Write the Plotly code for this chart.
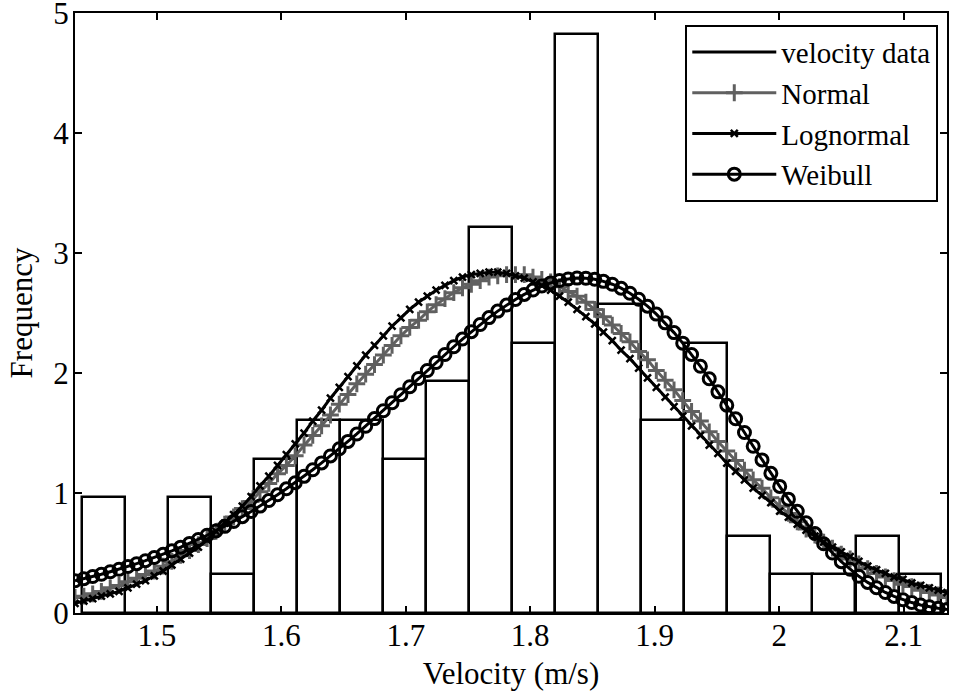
import plotly.graph_objects as go

# Histogram (velocity data): bin centres and frequency-density heights
bin_centers = [1.4570, 1.4915, 1.5260, 1.5606, 1.5951, 1.6296, 1.6642, 1.6987, 1.7332, 1.7678,
               1.8023, 1.8368, 1.8714, 1.9059, 1.9404, 1.9750, 2.0095, 2.0440, 2.0786, 2.1131]
bin_width = 0.03453
bin_freq = [0.965, 0.0, 0.965, 0.322, 1.287, 1.609, 1.609, 1.287, 1.931, 3.218,
            2.253, 4.827, 2.574, 1.609, 2.253, 0.644, 0.322, 0.322, 0.644, 0.322]

# Fitted density curves
vel = [1.4343,1.4414,1.4485,1.4555,1.4626,1.4697,1.4768,1.4838,1.4909,1.4980,1.5051,1.5121,1.5192,1.5263,1.5334,1.5404,1.5475,1.5546,1.5617,1.5687,
       1.5758,1.5829,1.5900,1.5970,1.6041,1.6112,1.6183,1.6253,1.6324,1.6395,1.6466,1.6536,1.6607,1.6678,1.6749,1.6820,1.6890,1.6961,1.7032,1.7103,
       1.7173,1.7244,1.7315,1.7386,1.7456,1.7527,1.7598,1.7669,1.7739,1.7810,1.7881,1.7952,1.8022,1.8093,1.8164,1.8235,1.8305,1.8376,1.8447,1.8518,
       1.8588,1.8659,1.8730,1.8801,1.8871,1.8942,1.9013,1.9084,1.9155,1.9225,1.9296,1.9367,1.9438,1.9508,1.9579,1.9650,1.9721,1.9791,1.9862,1.9933,
       2.0004,2.0074,2.0145,2.0216,2.0287,2.0357,2.0428,2.0499,2.0570,2.0640,2.0711,2.0782,2.0853,2.0923,2.0994,2.1065,2.1136,2.1206,2.1277,2.1348]
normal = [0.13,0.14,0.16,0.18,0.21,0.23,0.26,0.29,0.32,0.35,0.39,0.43,0.48,0.52,0.57,0.62,0.68,0.74,0.80,0.87,
          0.93,1.01,1.08,1.16,1.23,1.31,1.40,1.48,1.56,1.65,1.74,1.82,1.91,1.99,2.07,2.15,2.23,2.31,2.38,2.44,
          2.51,2.57,2.62,2.67,2.71,2.74,2.77,2.80,2.81,2.82,2.82,2.82,2.80,2.78,2.76,2.72,2.68,2.64,2.59,2.53,
          2.47,2.40,2.33,2.26,2.18,2.11,2.02,1.94,1.86,1.77,1.68,1.60,1.51,1.43,1.35,1.27,1.19,1.11,1.04,0.96,
          0.89,0.83,0.76,0.70,0.65,0.59,0.54,0.49,0.45,0.41,0.37,0.33,0.30,0.27,0.24,0.22,0.19,0.17,0.15,0.13]
lognormal = [0.08,0.10,0.12,0.14,0.16,0.18,0.21,0.24,0.27,0.31,0.35,0.40,0.45,0.50,0.55,0.61,0.68,0.75,0.82,0.89,
             0.97,1.06,1.14,1.23,1.32,1.41,1.50,1.60,1.69,1.79,1.88,1.97,2.06,2.15,2.23,2.31,2.39,2.46,2.53,2.59,
             2.64,2.69,2.73,2.77,2.80,2.82,2.83,2.84,2.84,2.83,2.81,2.79,2.76,2.73,2.69,2.64,2.59,2.53,2.47,2.41,
             2.34,2.27,2.19,2.12,2.04,1.96,1.88,1.80,1.72,1.64,1.56,1.48,1.40,1.33,1.25,1.18,1.11,1.04,0.98,0.92,
             0.85,0.80,0.74,0.69,0.64,0.59,0.55,0.51,0.47,0.43,0.39,0.36,0.33,0.30,0.28,0.25,0.23,0.21,0.19,0.17]
weibull = [0.269,0.286,0.304,0.323,0.344,0.365,0.387,0.411,0.436,0.462,0.490,0.518,0.549,0.580,0.613,0.648,0.684,0.722,0.762,0.803,
           0.846,0.891,0.937,0.985,1.035,1.086,1.139,1.194,1.251,1.309,1.369,1.430,1.492,1.556,1.620,1.686,1.752,1.819,1.886,1.954,
           2.021,2.088,2.154,2.219,2.283,2.345,2.404,2.462,2.516,2.566,2.613,2.655,2.692,2.725,2.751,2.771,2.784,2.791,2.790,2.781,
           2.764,2.740,2.707,2.665,2.615,2.557,2.491,2.418,2.337,2.249,2.155,2.056,1.952,1.843,1.732,1.619,1.504,1.390,1.276,1.164,
           1.055,0.949,0.848,0.752,0.662,0.577,0.500,0.428,0.364,0.306,0.255,0.210,0.171,0.138,0.110,0.087,0.067,0.052,0.039,0.029]

x_ticks = [1.5, 1.6, 1.7, 1.8, 1.9, 2.0, 2.1]
x_tick_text = ["1.5", "1.6", "1.7", "1.8", "1.9", "2", "2.1"]
y_ticks = [0, 1, 2, 3, 4, 5]
y_tick_text = ["0", "1", "2", "3", "4", "5"]

FONT = "Liberation Serif, Times New Roman, serif"
FS = 31
GRAY = "rgb(96,96,96)"

fig = go.Figure()
fig.add_trace(go.Bar(x=bin_centers, y=bin_freq, width=[bin_width] * len(bin_centers),
                     marker=dict(color="white", line=dict(color="black", width=2.5)),
                     showlegend=False, name="velocity data"))
# legend entry for the histogram (drawn as a line in the reference legend)
fig.add_trace(go.Scatter(x=[None], y=[None], mode="lines", name="velocity data",
                         line=dict(color="black", width=3)))
fig.add_trace(go.Scatter(x=vel, y=normal, mode="lines+markers", name="Normal",
                         line=dict(color=GRAY, width=3),
                         marker=dict(symbol="cross-thin", size=12, color=GRAY,
                                     line=dict(color=GRAY, width=3))))
fig.add_trace(go.Scatter(x=vel, y=lognormal, mode="lines+markers", name="Lognormal",
                         line=dict(color="black", width=3),
                         marker=dict(symbol="x-thin", size=7, color="black",
                                     line=dict(color="black", width=2.5))))
fig.add_trace(go.Scatter(x=vel, y=weibull, mode="lines+markers", name="Weibull",
                         line=dict(color="black", width=3),
                         marker=dict(symbol="circle-open", size=12, color="black",
                                     line=dict(color="black", width=3))))

axis_common = dict(showline=True, linecolor="black", linewidth=2, mirror="ticks",
                   ticks="inside", ticklen=7, tickwidth=1.5, tickcolor="black",
                   showgrid=False, zeroline=False, automargin=False,
                   ticklabeloverflow="allow",
                   tickfont=dict(family=FONT, size=FS, color="black"))
fig.update_xaxes(range=[1.4343, 2.1348], tickvals=x_ticks, ticktext=x_tick_text,
                 ticklabelstandoff=-6,
                 title=dict(text="Velocity (m/s)", font=dict(family=FONT, size=FS, color="black"),
                            standoff=10),
                 **axis_common)
fig.update_yaxes(range=[0, 5.0005], tickvals=y_ticks, ticktext=y_tick_text,
                 ticklabelstandoff=-2,
                 title=dict(text="Frequency", font=dict(family=FONT, size=FS, color="black"),
                            standoff=11),
                 **axis_common)

fig.update_layout(
    width=953, height=698,
    margin=dict(l=75, r=6, t=13, b=85),
    paper_bgcolor="white", plot_bgcolor="white",
    bargap=0,
    font=dict(family=FONT, size=FS, color="black"),
    legend=dict(x=0.99, y=0.9805, xanchor="right", yanchor="top",
                bgcolor="white", bordercolor="black", borderwidth=2,
                itemwidth=84, tracegroupgap=0,
                font=dict(family=FONT, size=29, color="black")),
)

fig.write_html("out.html", config={"displayModeBar": False},
               post_script="document.body.style.margin='0px';")
